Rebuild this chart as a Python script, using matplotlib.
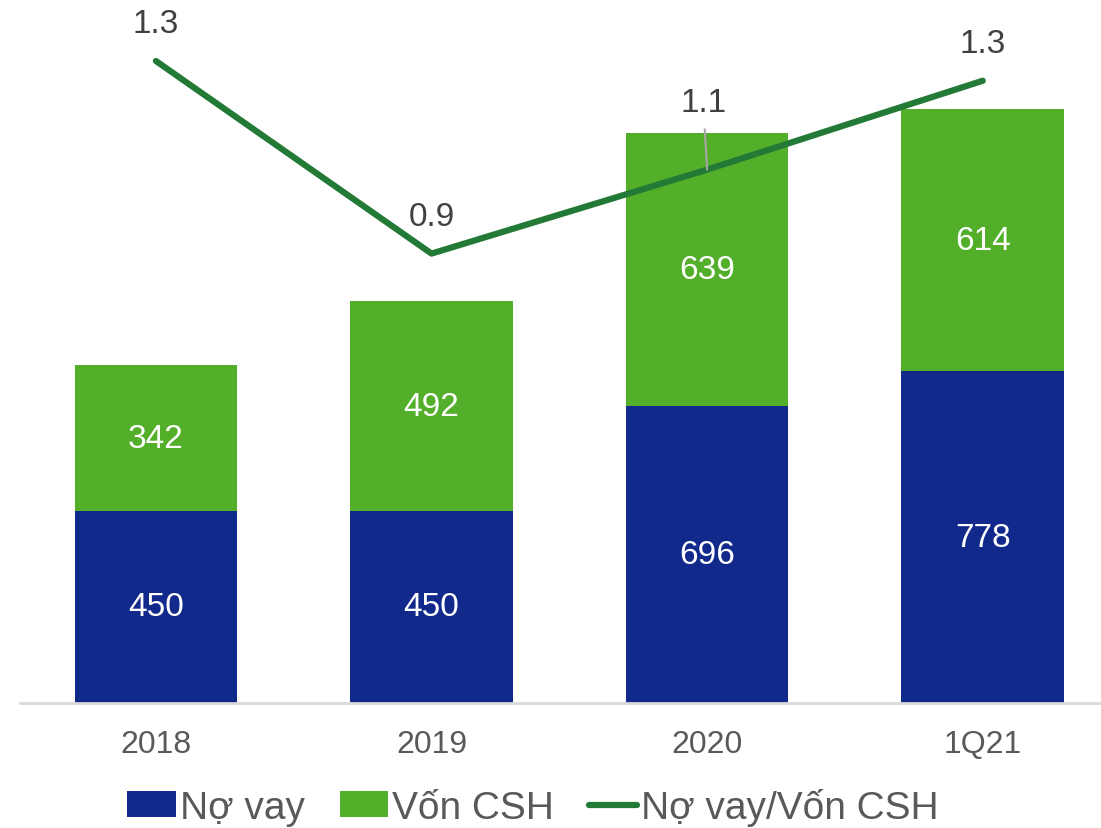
import matplotlib
matplotlib.use('Agg')
import matplotlib.pyplot as plt

plt.rcParams['font.family'] = ['Liberation Sans', 'DejaVu Sans']

periods = ['2018', '2019', '2020', '1Q21']
debt = [450, 450, 696, 778]          # Nợ vay
equity = [342, 492, 639, 614]        # Vốn CSH
ratio = [1.30, 0.91, 1.08, 1.26]     # Nợ vay/Vốn CSH

navy = '#12298C'
green = '#53AE2A'
line_green = '#237A36'
grey_txt = '#595959'

W, H = 1101, 829
fig = plt.figure(figsize=(W / 100, H / 100), dpi=100)
ax = fig.add_axes([20 / W, 125 / H, 1081 / W, 684 / H])
ax2 = ax.twinx()

x = list(range(len(periods)))
b1 = ax.bar(x, debt, width=0.59, color=navy, label='Nợ vay', zorder=2)
b2 = ax.bar(x, equity, width=0.59, bottom=debt, color=green,
            label='Vốn CSH', zorder=2)

for i in x:
    ax.text(i, debt[i] / 2, f'{debt[i]}', ha='center', va='center',
            color='white', fontsize=24)
    ax.text(i, debt[i] + equity[i] / 2, f'{equity[i]}', ha='center',
            va='center', color='white', fontsize=24)

ln, = ax2.plot(x, ratio, color=line_green, lw=4.5, solid_capstyle='round',
               label='Nợ vay/Vốn CSH', zorder=3)

for i in x:
    if i == 2:
        # label lifted above the bar, tied back to the line with a leader
        ax2.annotate(f'{ratio[i]:.1f}', xy=(i, ratio[i]),
                     xytext=(-4, 67), textcoords='offset pixels',
                     ha='center', va='center', fontsize=24, color='#404040',
                     arrowprops=dict(arrowstyle='-', color='#A6A6A6', lw=1.5,
                                     shrinkA=6, shrinkB=0))
    else:
        ax2.annotate(f'{ratio[i]:.1f}', xy=(i, ratio[i]),
                     xytext=(0, 37), textcoords='offset pixels',
                     ha='center', va='center', fontsize=24, color='#404040')

ax.set_xlim(-0.493, 3.429)
ax.set_ylim(0, 1603)
ax2.set_ylim(0, 1.385)

ax.set_xticks(x)
ax.set_xticklabels(periods, fontsize=23, color=grey_txt)
ax.tick_params(axis='x', length=0, pad=19)
ax.set_yticks([])
ax2.set_yticks([])
for sp in ['top', 'left', 'right']:
    ax.spines[sp].set_visible(False)
    ax2.spines[sp].set_visible(False)
ax.spines['bottom'].set_color('#D9D9D9')
ax.spines['bottom'].set_linewidth(2)
ax2.spines['bottom'].set_visible(False)

leg = fig.legend(handles=[b1, b2, ln], loc='center', ncol=3,
                 bbox_to_anchor=(533 / W, 1 - 808 / H), frameon=False,
                 fontsize=28, handlelength=1.25, handleheight=0.65,
                 handletextpad=0.1, columnspacing=0.9)
for t in leg.get_texts():
    t.set_color(grey_txt)

fig.savefig('out.png', dpi=100)
